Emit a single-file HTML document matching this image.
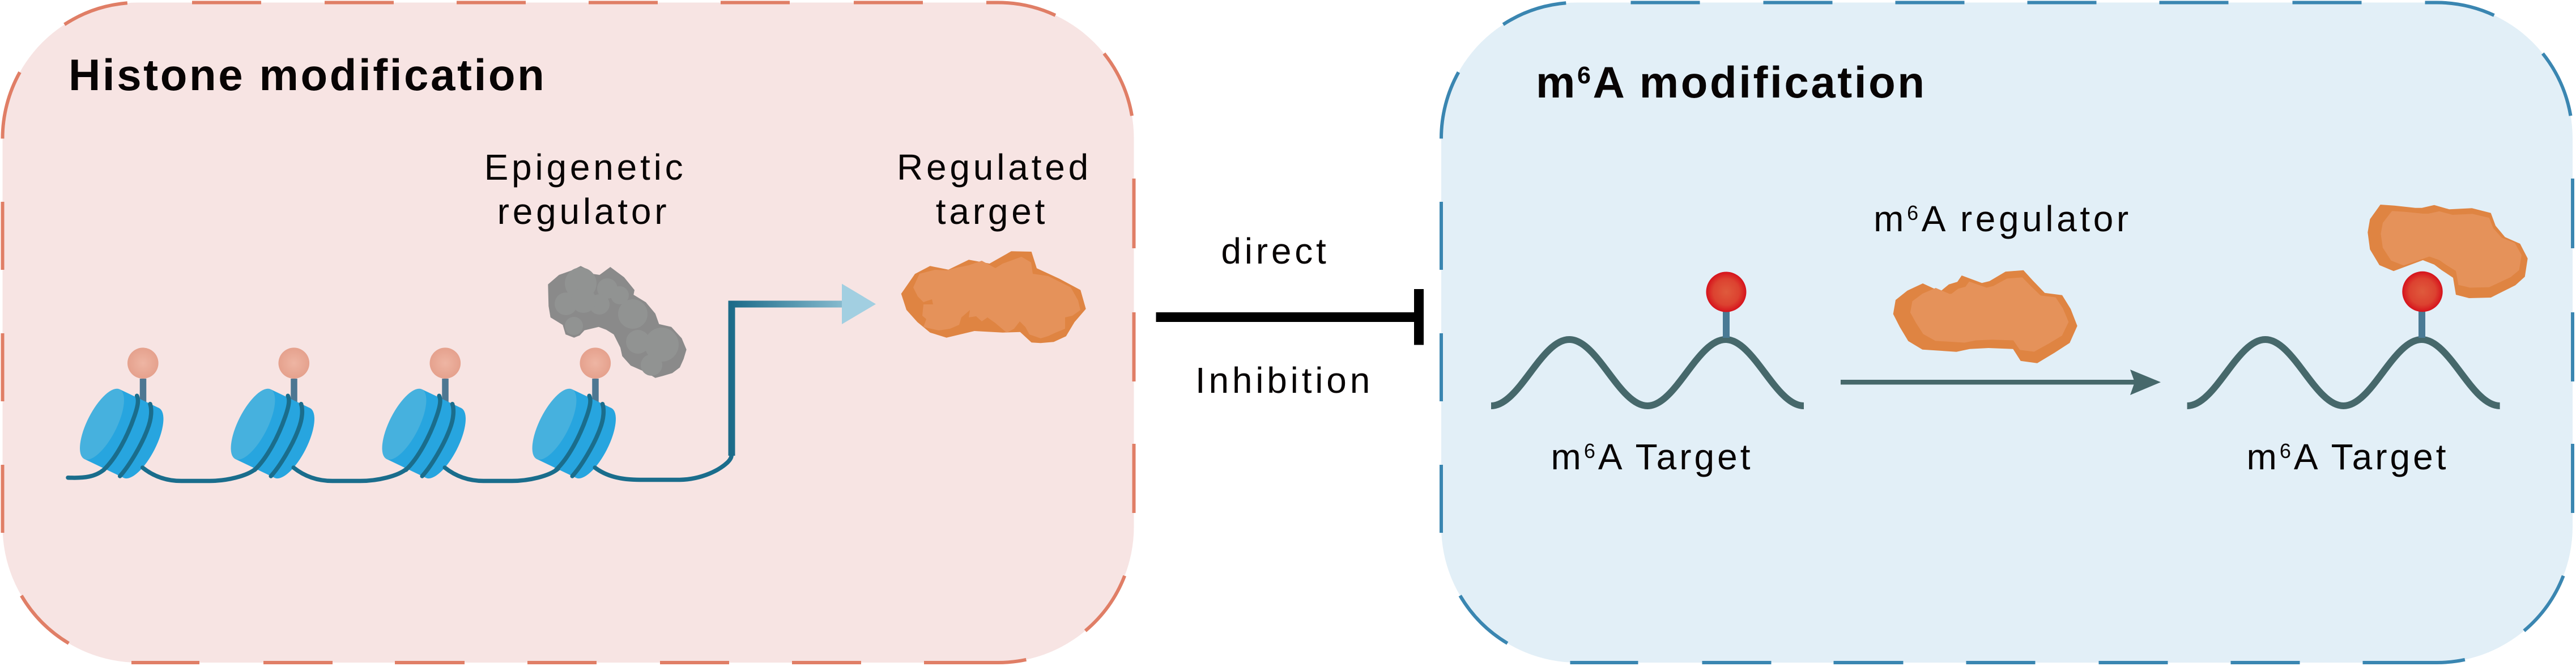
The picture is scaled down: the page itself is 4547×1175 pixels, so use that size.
<!DOCTYPE html>
<html>
<head>
<meta charset="utf-8">
<style>
html,body{margin:0;padding:0;background:#ffffff;}
svg{display:block;}
text{font-family:"Liberation Sans",Arial,Helvetica,sans-serif;fill:#080404;}
</style>
</head>
<body>
<svg width="4547" height="1175" viewBox="0 0 4547 1175" xmlns="http://www.w3.org/2000/svg">
<defs>
  <radialGradient id="pinkG" cx="0.5" cy="0.5" r="0.5">
    <stop offset="0" stop-color="#EEB5A3"/>
    <stop offset="1" stop-color="#E5A18D"/>
  </radialGradient>
  <radialGradient id="redG" cx="0.5" cy="0.5" r="0.5">
    <stop offset="0" stop-color="#DF5A3C"/>
    <stop offset="0.65" stop-color="#DC4230"/>
    <stop offset="1" stop-color="#D6121C"/>
  </radialGradient>
  <linearGradient id="arrG" gradientUnits="userSpaceOnUse" x1="1291" y1="0" x2="1546" y2="0">
    <stop offset="0" stop-color="#1C6B89"/>
    <stop offset="1" stop-color="#A6D2E3"/>
  </linearGradient>

  <!-- dashed outline of a box (left-box coordinates) -->
  <g id="dashes" fill="none" stroke-width="6">
    <path d="M339,4.5 H461 M573,4.5 H695 M806,4.5 H928 M1039,4.5 H1161 M1272,4.5 H1394 M1507,4.5 H1629"/>
    <path d="M1741,4.5 H1761.5 A240,240 0 0 1 1862.9,27"/>
    <path d="M1948.8,94.4 A240,240 0 0 1 1998,204.2"/>
    <path d="M2001.5,315 V438 M2001.5,551 V673 M2001.5,783 V905"/>
    <path d="M1985.2,1015.8 A240,240 0 0 1 1915.8,1112.9"/>
    <path d="M1811.4,1163.8 A240,240 0 0 1 1761.5,1169 H1631"/>
    <path d="M1520,1169 H1398 M1287,1169 H1165 M1053,1169 H931 M820,1169 H697 M587,1169 H465 M352,1169 H232"/>
    <path d="M121.3,1134.9 A240,240 0 0 1 37.7,1050.8"/>
    <path d="M4.5,940 V820 M4.5,708 V588 M4.5,476 V356"/>
    <path d="M4.5,244.5 A240,240 0 0 1 35,127.4"/>
    <path d="M113.8,43.2 A240,240 0 0 1 224.8,5.3"/>
  </g>

  <!-- nucleosome -->
  <g id="nuc">
    <line x1="252.5" y1="668" x2="252.5" y2="712" stroke="#4D7792" stroke-width="11.5"/>
    <circle cx="252.3" cy="640.7" r="27.3" fill="url(#pinkG)"/>
    <g transform="translate(180,748.3) rotate(27)">
      <ellipse cx="77" cy="-2" rx="26" ry="69" fill="#27A5DF"/>
      <polygon points="0,-69 77,-71 77,67 0,69" fill="#27A5DF"/>
      <ellipse cx="0" cy="0" rx="26" ry="69" fill="#46B1DE"/>
    </g>
    <g fill="none" stroke="#1A6D8C" stroke-width="7.5" stroke-linecap="round">
      <path d="M183,829 C205,808 225,770 237,735 C244,715 245,705 241.7,698.3"/>
      <path d="M211.7,840 C228,822 250,785 260,758 C268,738 268,722 265,712.7"/>
    </g>
  </g>
  <path id="link" d="M251.7,825 C268,838 290,848.5 320,848.5 L370,848.5 C400,848.5 436,840 451.5,827" fill="none" stroke="#1A6D8C" stroke-width="7.5" stroke-linecap="round"/>

  <!-- orange blob shapes -->
  <polygon id="blobMid" points="3346,529.3 3366.7,512.7 3394,500 3422.7,513.3 3426.7,512.7 3440,501.7 3455,497.3 3462.7,486 3498.3,499.3 3511.7,496 3540,479.3 3571.7,476.7 3588.3,495 3609.3,516.7 3640,520.7 3655,545 3666.7,575 3653.3,605 3626.7,622.3 3596,640.7 3566.7,636.7 3553.3,615.7 3510,614 3476.7,615.7 3453.3,620.7 3393.3,616.7 3368.3,601.7 3353.3,576.7 3341.7,554"/>
  <polygon id="blobRight" points="4201.7,361 4226.7,362.7 4263.3,366.7 4275,366.7 4296.7,361.7 4323.3,369.3 4363.3,367.3 4396.7,375.7 4405,398.3 4421.7,418.3 4448.3,430 4461.7,456 4456.7,488.3 4440,503.3 4410,518.3 4396.7,525 4358.3,526 4335,520 4330,490 4310,476.7 4296.7,466.7 4276.7,459 4225,478.3 4200,467.7 4183.3,440 4179.3,410 4183.3,386.7"/>
</defs>

<!-- boxes -->
<rect x="4.5" y="4.5" width="1997" height="1164.5" rx="240" ry="240" fill="#F7E4E3"/>
<rect x="2544" y="4.5" width="1997" height="1164.5" rx="240" ry="240" fill="#E2EFF7"/>
<use href="#dashes" stroke="#E07E66"/>
<use href="#dashes" stroke="#3A86B1" transform="translate(2539.5,0)"/>

<!-- ===== Left panel ===== -->
<text x="121" y="159" font-size="78" font-weight="bold" letter-spacing="3.6">Histone modification</text>

<text x="1033" y="317" font-size="64" letter-spacing="5.8" text-anchor="middle">Epigenetic</text>
<text x="1030" y="395" font-size="64" letter-spacing="5.8" text-anchor="middle">regulator</text>
<text x="1755" y="317" font-size="64" letter-spacing="5.8" text-anchor="middle">Regulated</text>
<text x="1751" y="395" font-size="64" letter-spacing="5.8" text-anchor="middle">target</text>

<!-- gray epigenetic regulator -->
<g>
  <polygon fill="#8A8A8A" points="967.3,501.7 986.7,485 1010,476.7 1025,469.3 1040,476.7 1046.7,483.3 1058.3,485 1077.3,471 1101.7,489.3 1120,511.7 1118.3,520 1140,533.3 1156.7,553.3 1163.3,571.7 1185,576.7 1203.3,596.7 1211.7,616.7 1206.7,633.3 1200,648.3 1186.7,658.3 1170,663.3 1156.7,666.7 1140,656.7 1113.3,645 1098.3,628.3 1095,613.3 1083.3,590 1070,581.7 1056.7,576.7 1031.7,582.7 1023.3,591.7 1013.3,595.7 998.3,590 993.3,573.3 971.7,560 968.3,540"/>
  <g fill="#919392">
    <circle cx="1025" cy="500" r="28"/>
    <circle cx="999" cy="536" r="20"/>
    <circle cx="1072" cy="509" r="18"/>
    <circle cx="1058" cy="537" r="18"/>
    <circle cx="1030" cy="530" r="22"/>
    <circle cx="1117" cy="554" r="26"/>
    <circle cx="1013" cy="575" r="16"/>
    <circle cx="1126" cy="603" r="21"/>
    <circle cx="1168" cy="608" r="30"/>
    <circle cx="1150" cy="644" r="19"/>
    <circle cx="1094" cy="521" r="16"/>
  </g>
</g>

<!-- nucleosomes -->
<path d="M120,842.7 C150,844 168,841 183,829" fill="none" stroke="#1A6D8C" stroke-width="7.5" stroke-linecap="round"/>
<use href="#nuc"/>
<use href="#nuc" transform="translate(266.5,0)"/>
<use href="#nuc" transform="translate(533.5,0)"/>
<use href="#nuc" transform="translate(798.5,0)"/>
<use href="#link"/>
<use href="#link" transform="translate(266.5,0)"/>
<use href="#link" transform="translate(533.5,0)"/>
<path d="M1050.2,825 C1070,840 1095,846.5 1130,846.5 L1200,846.5 C1240,845.5 1270,829 1284,816 C1290,810 1291.5,806 1291.5,800" fill="none" stroke="#1A6D8C" stroke-width="7.5" stroke-linecap="round"/>

<!-- gradient arrow -->
<path d="M1291.5,804 V536.5 H1490" fill="none" stroke="url(#arrG)" stroke-width="12"/>
<polygon points="1486,500.6 1546,536.5 1486,572" fill="#A2CFE1"/>

<!-- regulated target orange blob -->
<polygon fill="#DF8442" points="1590.7,518.3 1615,483.3 1641.7,469.3 1674,475.7 1710,458.3 1746.7,465 1785,443.3 1820.7,444 1830,473.3 1870,491.7 1907.3,511.7 1916.7,545 1896.7,568.3 1881.7,593.3 1860,603.3 1836.7,605.3 1820.7,604.3 1800.7,585.7 1770,586.7 1720,584 1670.7,595.7 1641.7,586.7 1619.3,568.3 1600,546.7"/>
<polygon fill="#E5925A" points="1612,507 1623,483 1650,476 1670,477 1690,472 1710,468 1733,460 1757,473 1770,465 1803,453 1820,463 1823,483 1850,487 1870,497 1890,507 1903,530 1907,547 1893,557 1880,560 1880,580 1863,587 1850,593 1837,597 1817,590 1810,577 1800,567 1790,580 1777,587 1757,570 1743,560 1733,567 1723,558 1710,560 1712,547 1697,560 1693,573 1677,580 1657,583 1630,577 1635,563 1628,557 1630,537 1647,537 1645,528 1630,533 1620,523"/>

<!-- ===== Middle: inhibition ===== -->
<text x="2251" y="465" font-size="64" letter-spacing="5.8" text-anchor="middle">direct</text>
<text x="2267" y="693" font-size="64" letter-spacing="5.8" text-anchor="middle">Inhibition</text>
<rect x="2040.5" y="551" width="462" height="17" fill="#000"/>
<rect x="2496" y="510" width="17" height="98.5" fill="#000"/>

<!-- ===== Right panel ===== -->
<text x="2711" y="172" font-size="78" font-weight="bold" letter-spacing="3.6">m<tspan font-size="43" dy="-25">6</tspan><tspan dy="25">A modification</tspan></text>

<text x="3535" y="408" font-size="64" letter-spacing="5.6" text-anchor="middle">m<tspan font-size="36" dy="-20">6</tspan><tspan dy="20">A regulator</tspan></text>
<text x="2916" y="828" font-size="64" letter-spacing="5" text-anchor="middle">m<tspan font-size="36" dy="-20">6</tspan><tspan dy="20">A Target</tspan></text>
<text x="4144" y="828" font-size="64" letter-spacing="5" text-anchor="middle">m<tspan font-size="36" dy="-20">6</tspan><tspan dy="20">A Target</tspan></text>

<!-- waves -->
<g fill="none" stroke="#46686B" stroke-width="12">
  <path d="M2632,716 C2682,716 2720,599 2770,599 C2820,599 2858,716 2908,716 C2958,716 2996,599 3046,599 C3096,599 3134,716 3184,716"/>
  <path d="M3860.6,716 C3910.6,716 3948.6,599 3998.6,599 C4048.6,599 4086.6,716 4136.6,716 C4186.6,716 4224.6,599 4274.6,599 C4324.6,599 4362.6,716 4412.6,716"/>
</g>
<g stroke="#4A7A95" stroke-width="12">
  <line x1="3047" y1="548" x2="3047" y2="596"/>
  <line x1="4275" y1="548" x2="4275" y2="596"/>
</g>
<circle cx="3047" cy="515" r="35.5" fill="url(#redG)"/>
<circle cx="4276" cy="514.5" r="35.7" fill="url(#redG)"/>

<!-- middle orange blob -->
<use href="#blobMid" fill="#DF8442"/>
<use href="#blobMid" fill="#E5925A" transform="translate(8,-4) translate(3500,560) scale(0.86,0.8) translate(-3500,-560)"/>

<!-- right orange blob -->
<use href="#blobRight" fill="#DF8442"/>
<use href="#blobRight" fill="#E5925A" transform="translate(6,-3) translate(4322,440) scale(0.88,0.82) translate(-4322,-440)"/>

<!-- arrow -->
<line x1="3249" y1="674.3" x2="3770" y2="674.3" stroke="#46686B" stroke-width="8.5"/>
<polygon points="3760,652 3814,674.3 3760,697 3768,674.3" fill="#46686B"/>

</svg>
</body>
</html>
